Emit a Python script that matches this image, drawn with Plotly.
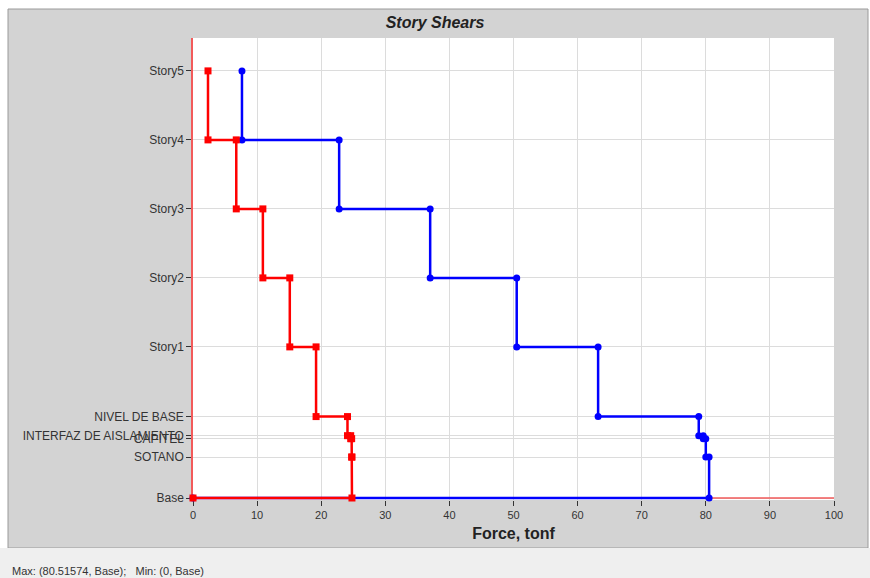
import plotly.graph_objects as go

# Levels from top to bottom and their elevations (m, approximate)
levels = ["Story5", "Story4", "Story3", "Story2", "Story1", "NIVEL DE BASE",
          "INTERFAZ DE AISLAMIENTO", "CAPITEL", "SOTANO", "Base"]
elevations = [18.57, 15.57, 12.57, 9.57, 6.57, 3.54, 2.71, 2.58, 1.78, 0.0]

# Story shear for each story (between a level and the next one below), tonf
shear_blue = [7.64, 22.8, 37.0, 50.5, 63.2, 78.9, 79.6, 80.0, 80.51574]
shear_red = [2.34, 6.75, 10.9, 15.1, 19.2, 24.1, 24.6, 24.75, 24.8]

x_ticks = [0, 10, 20, 30, 40, 50, 60, 70, 80, 90, 100]


def step_path(shears):
    xs, ys = [], []
    for i, v in enumerate(shears):
        xs += [v, v]
        ys += [elevations[i], elevations[i + 1]]
    xs.append(0)
    ys.append(elevations[-1])
    return xs, ys


bx, by = step_path(shear_blue)
rx, ry = step_path(shear_red)

fig = go.Figure()
fig.add_trace(go.Scatter(x=bx, y=by, mode="lines+markers",
                         line=dict(color="#0000ff", width=2.5),
                         marker=dict(symbol="circle", size=7, color="#0000ff"),
                         cliponaxis=False, showlegend=False))
fig.add_trace(go.Scatter(x=rx, y=ry, mode="lines+markers",
                         line=dict(color="#ff0000", width=2.5),
                         marker=dict(symbol="square", size=7, color="#ff0000"),
                         cliponaxis=False, showlegend=False))

W, H = 870, 578
L, R, T, B = 193, 834, 38, 500
pw, ph = R - L, B - T
px_per_unit = 23.0
y_bottom = -(B - 498) / px_per_unit
y_top = y_bottom + ph / px_per_unit


def px(x):
    return (x - L) / pw


def py(y):
    return (B - y) / ph


shapes = [
    # gray panel
    dict(type="rect", xref="paper", yref="paper", x0=px(8), x1=px(868), y0=py(548), y1=py(9),
         fillcolor="#d3d3d3", line=dict(color="#9a9a9a", width=1), layer="below"),
    # footer strip
    dict(type="rect", xref="paper", yref="paper", x0=px(0), x1=px(870), y0=py(578), y1=py(548),
         fillcolor="#efefef", line=dict(width=0), layer="below"),
    # white plot background
    dict(type="rect", xref="paper", yref="paper", x0=0, x1=1, y0=0, y1=1,
         fillcolor="white", line=dict(width=0), layer="below"),
    # red base line (force axis at Base level)
    dict(type="line", xref="x", yref="y", x0=0, x1=100, y0=0, y1=0,
         line=dict(color="#f25a5a", width=1.5), layer="between"),
]

fig.update_layout(
    width=W, height=H,
    margin=dict(l=L, r=W - R, t=T, b=H - B),
    paper_bgcolor="white",
    plot_bgcolor="rgba(0,0,0,0)",
    font=dict(family="Liberation Sans, Arial, sans-serif", size=11, color="#333333"),
    title=dict(text="<b><i>Story Shears</i></b>", x=px(513.5), xanchor="center",
               y=1 - 22 / H, yanchor="middle", font=dict(size=16, color="#222222")),
    shapes=shapes,
    annotations=[dict(text="Max: (80.51574, Base);   Min: (0, Base)", xref="paper", yref="paper",
                      x=px(10), y=py(571), xanchor="left", yanchor="middle", showarrow=False,
                      font=dict(size=11, color="#333333"))],
)

fig.update_xaxes(range=[0, 100], tickvals=x_ticks, ticks="outside", ticklen=5,
                 tickcolor="#333333", showgrid=True, gridcolor="#dcdcdc", gridwidth=1,
                 zeroline=False, showline=False, layer="below traces",
                 title=dict(text="<b>Force, tonf</b>", font=dict(size=16, color="#222222"), standoff=7))
fig.update_yaxes(range=[y_bottom, y_top], tickvals=elevations, ticktext=levels, ticks="outside",
                 ticklen=5, tickcolor="#333333", tickfont=dict(size=12),
                 showgrid=True, gridcolor="#dcdcdc", gridwidth=1,
                 zeroline=False, showline=True, linecolor="#f25a5a", linewidth=1.5,
                 layer="below traces")

fig.write_html("out.html")
